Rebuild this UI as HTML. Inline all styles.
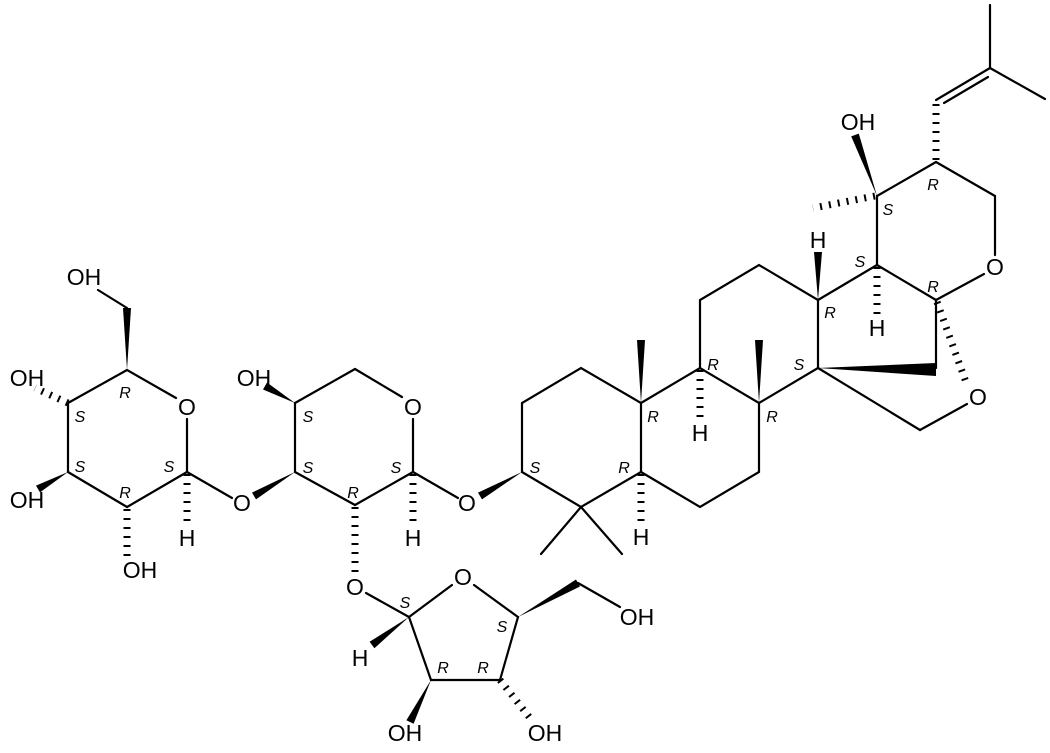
<!DOCTYPE html>
<html><head><meta charset="utf-8"><style>
html,body{margin:0;padding:0;background:#fff;}
svg{display:block;}
text{font-family:"Liberation Sans",sans-serif;}
.a{font-size:23px;text-anchor:middle;}
.s{font-size:16px;font-style:italic;text-anchor:middle;font-family:"DejaVu Sans",sans-serif;}
</style></head><body>
<svg width="1050" height="753" viewBox="0 0 1050 753" xmlns="http://www.w3.org/2000/svg">
<g stroke="#000" stroke-width="2.2" fill="none" stroke-linecap="round">
<line x1="98" y1="290" x2="127" y2="308"/>
<line x1="127" y1="370" x2="176" y2="398"/>
<line x1="187" y1="419" x2="187" y2="472"/>
<line x1="187" y1="472" x2="127" y2="507"/>
<line x1="127" y1="507" x2="68" y2="472"/>
<line x1="68" y1="472" x2="68" y2="403"/>
<line x1="68" y1="403" x2="127" y2="370"/>
<line x1="187" y1="472" x2="232" y2="498"/>
<line x1="295" y1="403" x2="355" y2="369"/>
<line x1="355" y1="369" x2="402" y2="397"/>
<line x1="413" y1="419" x2="413" y2="472"/>
<line x1="413" y1="472" x2="355" y2="505"/>
<line x1="355" y1="505" x2="295" y2="472"/>
<line x1="295" y1="472" x2="295" y2="403"/>
<line x1="413" y1="472" x2="458" y2="498"/>
<line x1="366" y1="593" x2="409" y2="617"/>
<line x1="409" y1="617" x2="452" y2="585"/>
<line x1="474" y1="585" x2="518" y2="617"/>
<line x1="518" y1="617" x2="500" y2="680"/>
<line x1="500" y1="680" x2="431" y2="680"/>
<line x1="431" y1="680" x2="409" y2="617"/>
<line x1="578" y1="583" x2="620" y2="607"/>
<polyline points="522,472 522,403 581,368 641,403 641,472 581,507 522,472"/>
<line x1="581" y1="507" x2="541" y2="554"/>
<line x1="581" y1="507" x2="622" y2="554"/>
<polyline points="641,472 700,507 759,472 759,403 700,368 641,403"/>
<polyline points="700,368 700,300 759,265 818,300 818,368 759,403"/>
<line x1="818" y1="300" x2="877" y2="265"/>
<line x1="877" y1="265" x2="936" y2="300"/>
<line x1="936" y1="300" x2="936" y2="368"/>
<line x1="877" y1="265" x2="877" y2="196"/>
<line x1="877" y1="196" x2="936" y2="162"/>
<line x1="936" y1="162" x2="995" y2="196"/>
<line x1="995" y1="196" x2="995" y2="255"/>
<line x1="984" y1="274" x2="936" y2="300"/>
<line x1="818" y1="368" x2="920" y2="430"/>
<line x1="920" y1="430" x2="967" y2="404"/>
<line x1="936" y1="100" x2="990" y2="68"/>
<line x1="944" y1="103" x2="988" y2="77"/>
<line x1="990" y1="68" x2="990" y2="5"/>
<line x1="990" y1="68" x2="1045" y2="99"/>
</g>
<g stroke="#000" stroke-width="7" stroke-dasharray="2,7" fill="none">
<line x1="68" y1="403" x2="35" y2="388"/>
<line x1="127" y1="509" x2="127" y2="556"/>
<line x1="187" y1="474" x2="187" y2="525"/>
<line x1="413" y1="474" x2="413" y2="525"/>
<line x1="355" y1="507" x2="355" y2="574"/>
<line x1="500" y1="680" x2="530" y2="718"/>
<line x1="641" y1="474" x2="641" y2="524"/>
<line x1="700" y1="370" x2="700" y2="420"/>
<line x1="877" y1="267" x2="877" y2="316"/>
<line x1="875" y1="196" x2="813" y2="208"/>
<line x1="936" y1="160" x2="936" y2="100"/>
<line x1="937" y1="302" x2="967" y2="385"/>
</g>
<g fill="#000">
<polygon points="127,370 123,308 131,308"/>
<polygon points="68,472 40,492.4 36,485.6"/>
<polygon points="295,403 267,382.5 263,389.5"/>
<polygon points="295,472 256,499.4 252,492.6"/>
<polygon points="522,472 482,499.4 478,492.6"/>
<polygon points="409,617 374.4,648.2 369.6,641.8"/>
<polygon points="431,680 413.6,723.8 406.4,720.2"/>
<polygon points="518,617 580,586.5 576,579.5"/>
<polygon points="641,403 637,340 645,340"/>
<polygon points="759,403 755,340 763,340"/>
<polygon points="818,300 814,252 822,252"/>
<polygon points="877,196 858.8,133.6 851.2,136.4"/>
<polygon points="818,368 936,363 936,376"/>
</g>
<g class="a" fill="#000">
<text x="84" y="285">OH</text>
<text x="27" y="386">OH</text>
<text x="27" y="508">OH</text>
<text x="140" y="578">OH</text>
<text x="187" y="546">H</text>
<text x="242" y="511">O</text>
<text x="187" y="415">O</text>
<text x="254" y="386">OH</text>
<text x="413" y="415">O</text>
<text x="413" y="546">H</text>
<text x="467" y="511">O</text>
<text x="355" y="595">O</text>
<text x="463" y="585">O</text>
<text x="360" y="666">H</text>
<text x="405" y="741">OH</text>
<text x="545" y="741">OH</text>
<text x="637" y="625">OH</text>
<text x="641" y="545">H</text>
<text x="700" y="441">H</text>
<text x="818" y="248">H</text>
<text x="858" y="130">OH</text>
<text x="877" y="336">H</text>
<text x="995" y="275">O</text>
<text x="978" y="405">O</text>
</g>
<g class="s" fill="#000">
<text x="125" y="398">R</text>
<text x="80" y="422">S</text>
<text x="80" y="472">S</text>
<text x="125" y="498">R</text>
<text x="169" y="472">S</text>
<text x="308" y="422">S</text>
<text x="308" y="473">S</text>
<text x="353" y="498">R</text>
<text x="396" y="473">S</text>
<text x="405" y="608">S</text>
<text x="502" y="632">S</text>
<text x="443" y="673">R</text>
<text x="483" y="673">R</text>
<text x="535" y="473">S</text>
<text x="653" y="422">R</text>
<text x="624" y="473">R</text>
<text x="713" y="370">R</text>
<text x="799" y="370">S</text>
<text x="772" y="422">R</text>
<text x="830" y="318">R</text>
<text x="860" y="267">S</text>
<text x="888" y="215">S</text>
<text x="933" y="190">R</text>
<text x="933" y="292">R</text>
</g>
</svg>
</body></html>
